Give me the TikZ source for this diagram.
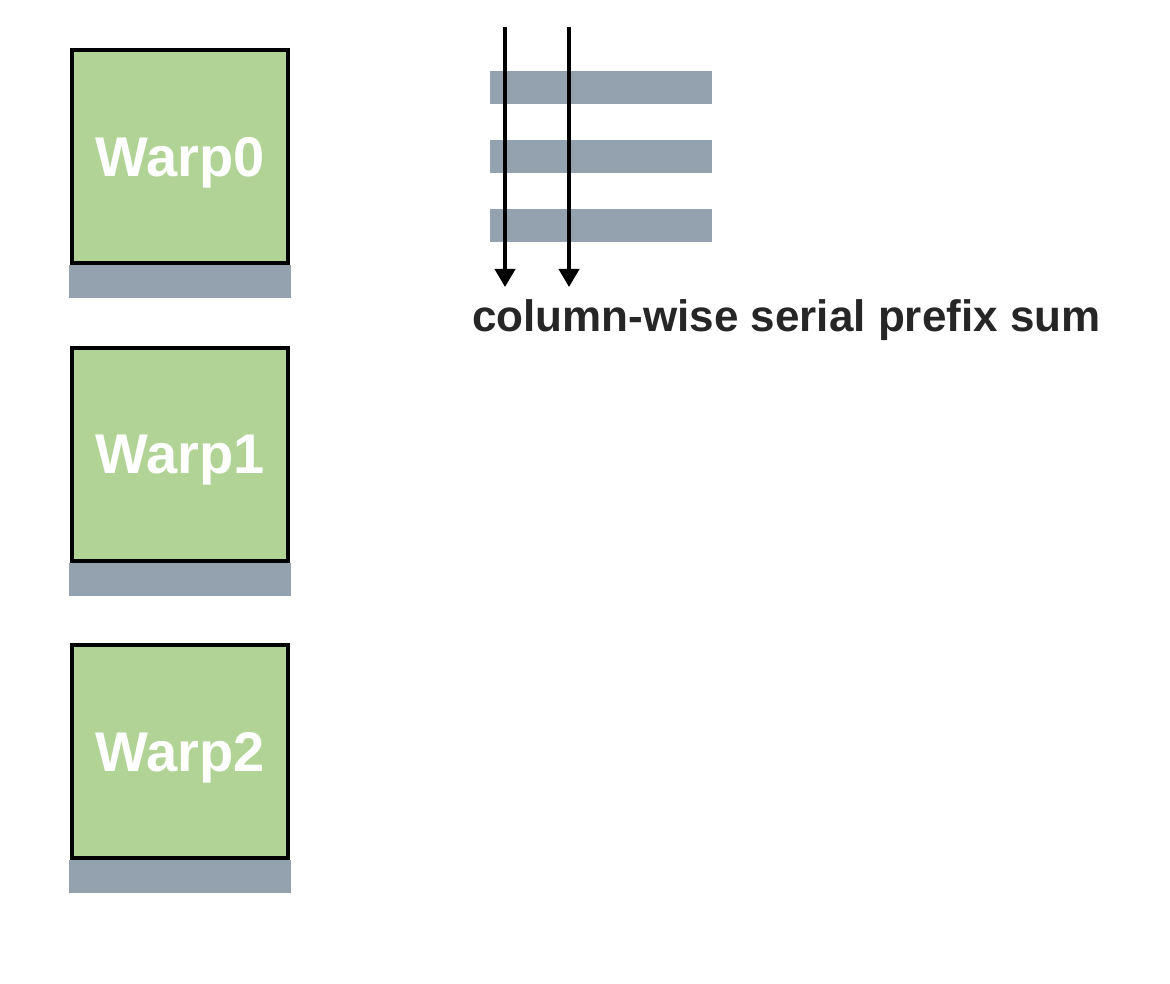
\documentclass[tikz,border=0pt]{standalone}
\usepackage{fontspec}
\setmainfont{Liberation Sans}
\usetikzlibrary{arrows.meta}
\definecolor{warpgreen}{HTML}{B2D396}
\definecolor{bargray}{HTML}{94A1AF}
\definecolor{labelgray}{HTML}{262626}

\begin{document}
\begin{tikzpicture}[x=1pt,y=-1pt,
    warpbox/.style={draw=black,line width=3.5pt,fill=warpgreen,inner sep=0pt,
        minimum width=216pt,minimum height=213pt,text depth=0pt,
        font=\bfseries\fontsize{56}{56}\selectfont,text=white},
    membar/.style={fill=bargray,draw=none,inner sep=0pt,minimum width=222pt,minimum height=33pt},
    scanline/.style={line width=4pt,-{Triangle[length=18pt,width=20pt]}}]
\useasboundingbox (0,0) rectangle (1170,984);

% warps, each with its shared-memory row below
\foreach \i/\y in {0/156.5,1/454.5,2/751.5} {
    \node[warpbox] (warp\i) at (180,\y) {Warp\i};
    \node[membar,anchor=north] (row\i) at (warp\i.south) {};
}

% rows of the shared-memory block
\foreach \j/\y in {0/87.5,1/157,2/226} {
    \node[membar] (bar\j) at (601,\y) {};
}

% column-wise scan
\foreach \k/\x in {0/505,1/569} {
    \coordinate (top\k) at (\x,27);
    \coordinate (end\k) at (\x,287);
    \draw[scanline] (top\k) -- (end\k);
}
\node[text=labelgray,font=\bfseries\fontsize{44}{44}\selectfont,anchor=north west,inner sep=0pt]
    (scanlabel) at (472,299) {column-wise serial prefix sum};
\end{tikzpicture}
\end{document}
